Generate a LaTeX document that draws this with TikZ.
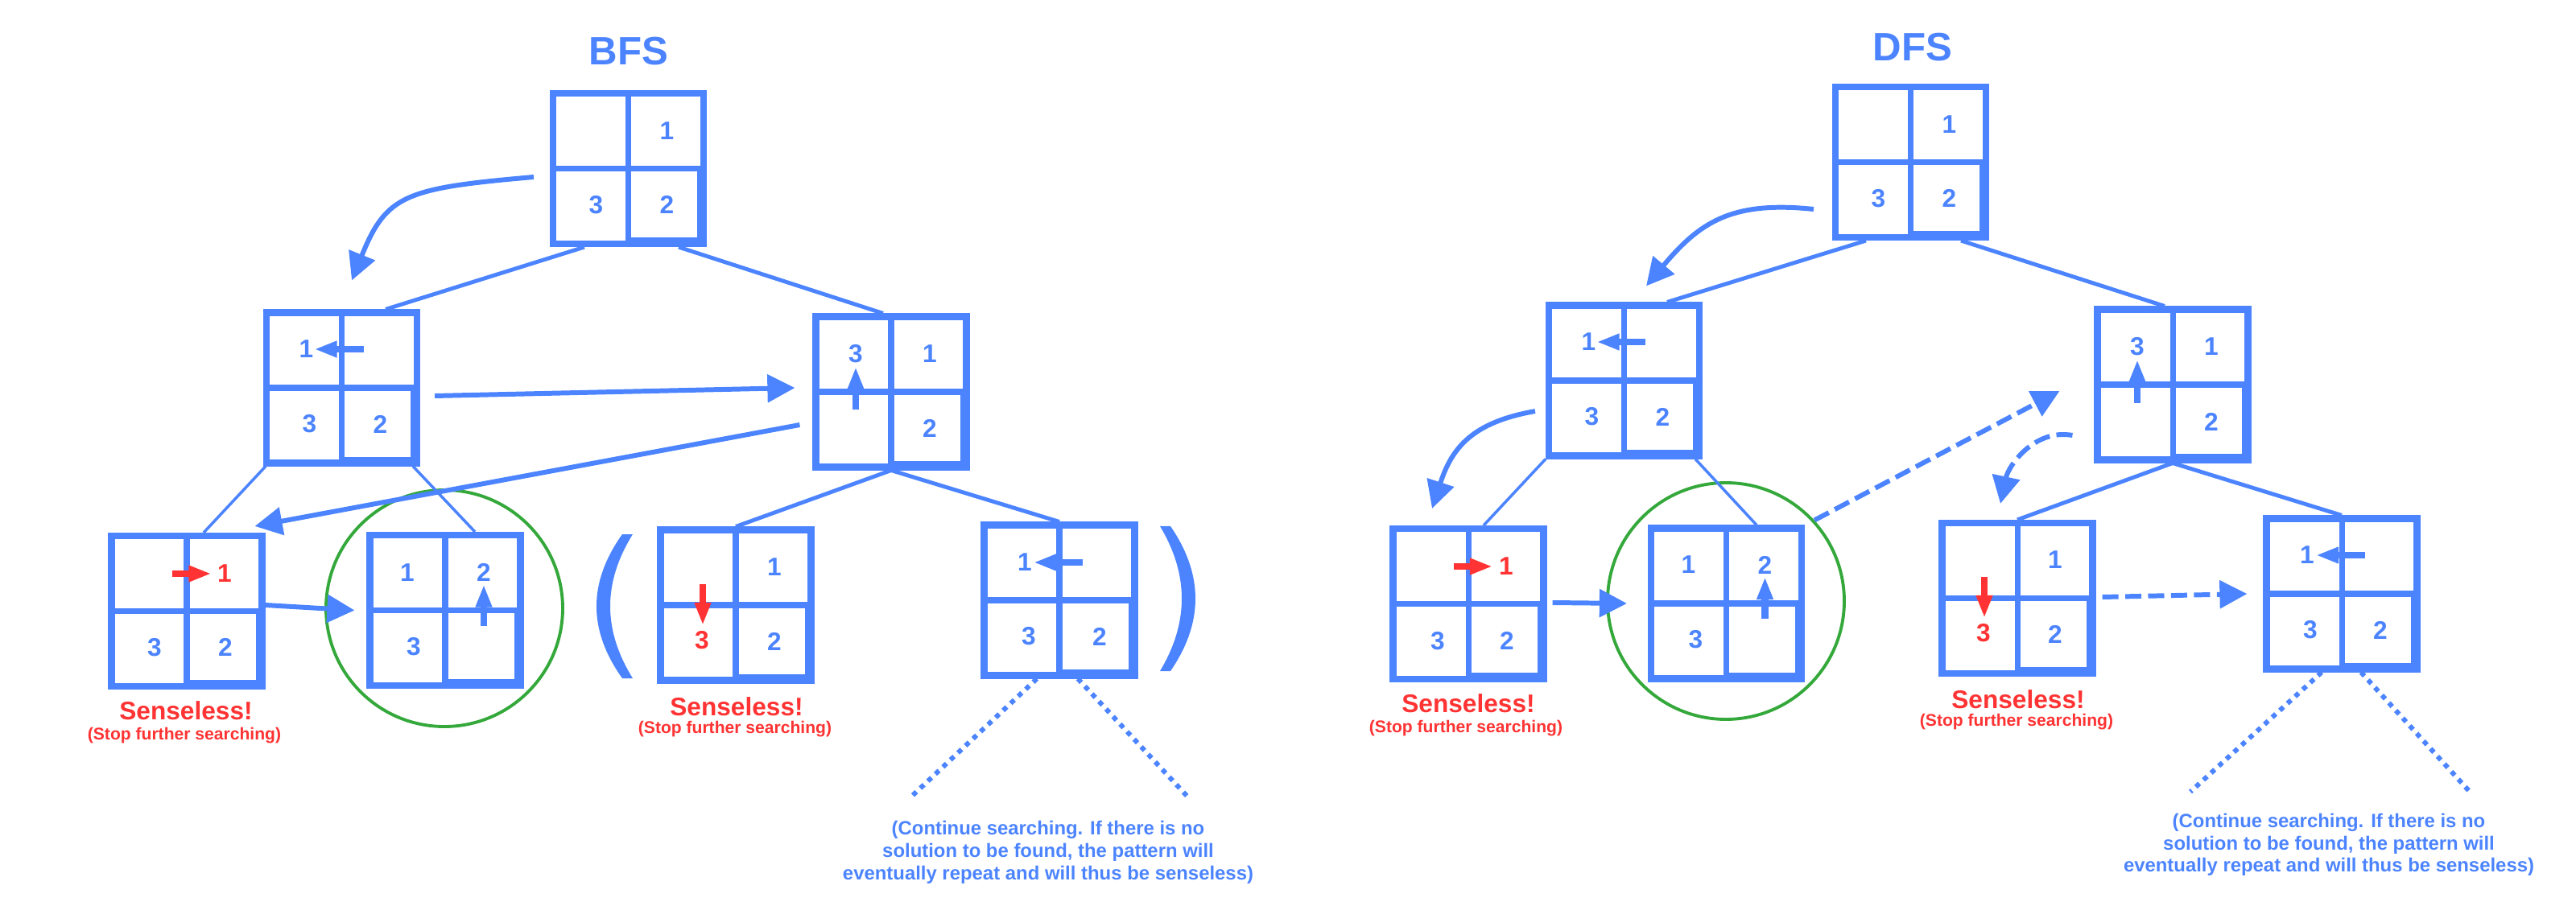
\documentclass[tikz,border=0pt]{standalone}
\usepackage{fontspec}
\setmainfont{Liberation Sans}
\usetikzlibrary{arrows.meta}
\definecolor{puzblue}{RGB}{76,132,255}
\definecolor{puzred}{RGB}{255,51,51}
\definecolor{goalgreen}{RGB}{52,168,58}
\tikzset{
  board/.style={draw=puzblue, fill=white, line width=2.3pt, minimum size=1.87cm, inner sep=0pt,
    path picture={
      \draw[puzblue, line width=2pt] (path picture bounding box.north) -- (path picture bounding box.south);
      \draw[puzblue, line width=2pt] (path picture bounding box.west) -- (path picture bounding box.east);
      \draw[puzblue, line width=4.4pt] (path picture bounding box.south) -- (path picture bounding box.south east) -- (path picture bounding box.east);
    }},
  tile/.style={text=puzblue, font=\fontsize{9}{10}\selectfont\bfseries, inner sep=0pt},
  redtile/.style={tile, text=puzred},
  slide/.style={draw=puzblue, line width=2.5pt, -{Triangle[length=8pt,width=5.4pt]}},
  redslide/.style={slide, draw=puzred, fill=puzred},
  link/.style={draw=puzblue, line width=1.4pt},
  thinlink/.style={draw=puzblue, line width=1pt},
  visit/.style={draw=puzblue, line width=1.7pt, -{Triangle[length=9.7pt,width=9.7pt]}},
  backtrack/.style={visit, dash pattern=on 5.7pt off 2.4pt},
  onward/.style={draw=puzblue, line width=1.7pt, dash pattern=on 1.75pt off 1.9pt},
  goalring/.style={draw=goalgreen, line width=1.1pt, circle, minimum size=2.94cm, inner sep=0pt},
  heading/.style={text=puzblue, font=\fontsize{14}{16}\selectfont\bfseries},
  verdict/.style={text=puzred, font=\fontsize{9}{10}\selectfont\bfseries, inner sep=0pt},
  aside/.style={text=puzred, font=\fontsize{6}{7}\selectfont\bfseries, inner sep=0pt},
  remark/.style={text=puzblue, font=\fontsize{6.8}{7.9}\selectfont\bfseries, align=center, inner sep=0pt}
}
\begin{document}
\begin{tikzpicture}
                    \useasboundingbox (0,0) rectangle (32.000000,11.250000);
                    {\bfseries

                    % Marking titles
                    \node[heading] (bfs) at (7.810000,10.610000) {BFS};%
                    \node[heading] (dfs) at (23.760000,10.660000) {DFS};%

                    % Marking goal rings
                    \node[goalring] (B2ring) at (5.520000,3.690000) {};%
                    \node[goalring] (D2ring) at (21.440000,3.780000) {};%

                    % ---------------- BFS ----------------

                    % Drawing board R
                    \node[board] (R) at (7.805000,9.155000) {};%
                    \node[tile] (R1) at ([xshift=0.48cm,yshift=0.47cm]R.center) {1};%
                    \node[tile] (R3) at ([xshift=-0.40cm,yshift=-0.45cm]R.center) {3};%
                    \node[tile] (R2) at ([xshift=0.48cm,yshift=-0.45cm]R.center) {2};%

                    % Drawing board L
                    \node[board] (L) at (4.245000,6.430000) {};%
                    \node[tile] (L1) at ([xshift=-0.44cm,yshift=0.48cm]L.center) {1};%
                    \node[tile] (L3) at ([xshift=-0.40cm,yshift=-0.45cm]L.center) {3};%
                    \node[tile] (L2) at ([xshift=0.48cm,yshift=-0.45cm]L.center) {2};%
                    \draw[slide] ([xshift=0.27cm,yshift=0.48cm]L.center) -- ([xshift=-0.34cm,yshift=0.48cm]L.center);%

                    % Drawing board Rt
                    \node[board] (Rt) at (11.070000,6.380000) {};%
                    \node[tile] (Rt3) at ([xshift=-0.44cm,yshift=0.47cm]Rt.center) {3};%
                    \node[tile] (Rt1) at ([xshift=0.48cm,yshift=0.47cm]Rt.center) {1};%
                    \node[tile] (Rt2) at ([xshift=0.48cm,yshift=-0.45cm]Rt.center) {2};%
                    \draw[slide] ([xshift=-0.44cm,yshift=-0.22cm]Rt.center) -- ([xshift=-0.44cm,yshift=0.31cm]Rt.center);%

                    % Drawing board B1
                    \node[board] (B1) at (2.320000,3.655000) {};%
                    \node[redtile] (B11) at ([xshift=0.47cm,yshift=0.465cm]B1.center) {1};%
                    \node[tile] (B13) at ([xshift=-0.40cm,yshift=-0.45cm]B1.center) {3};%
                    \node[tile] (B12) at ([xshift=0.48cm,yshift=-0.45cm]B1.center) {2};%
                    \draw[redslide] ([xshift=-0.185cm,yshift=0.465cm]B1.center) -- ([xshift=0.305cm,yshift=0.465cm]B1.center);%

                    % Drawing board B2
                    \node[board] (B2) at (5.530000,3.665000) {};%
                    \node[tile] (B21) at ([xshift=-0.47cm,yshift=0.47cm]B2.center) {1};%
                    \node[tile] (B22) at ([xshift=0.48cm,yshift=0.47cm]B2.center) {2};%
                    \node[tile] (B23) at ([xshift=-0.39cm,yshift=-0.45cm]B2.center) {3};%
                    \draw[slide] ([xshift=0.48cm,yshift=-0.19cm]B2.center) -- ([xshift=0.48cm,yshift=0.32cm]B2.center);%

                    % Drawing board B3
                    \node[board] (B3) at (9.140000,3.730000) {};%
                    \node[tile] (B31) at ([xshift=0.48cm,yshift=0.47cm]B3.center) {1};%
                    \node[redtile] (B33) at ([xshift=-0.42cm,yshift=-0.44cm]B3.center) {3};%
                    \node[tile] (B32) at ([xshift=0.48cm,yshift=-0.45cm]B3.center) {2};%
                    \draw[redslide] ([xshift=-0.41cm,yshift=0.26cm]B3.center) -- ([xshift=-0.41cm,yshift=-0.25cm]B3.center);%

                    % Drawing board B4
                    \node[board] (B4) at (13.160000,3.790000) {};%
                    \node[tile] (B41) at ([xshift=-0.43cm,yshift=0.47cm]B4.center) {1};%
                    \node[tile] (B43) at ([xshift=-0.38cm,yshift=-0.45cm]B4.center) {3};%
                    \node[tile] (B42) at ([xshift=0.50cm,yshift=-0.45cm]B4.center) {2};%
                    \draw[slide] ([xshift=0.29cm,yshift=0.47cm]B4.center) -- ([xshift=-0.32cm,yshift=0.47cm]B4.center);%

                    % Drawing segments of the BFS tree
                    \draw[link] ([xshift=-0.545cm]R.south) -- ([xshift=0.545cm]L.north);%
                    \draw[link] ([xshift=0.625cm]R.south) -- ([xshift=-0.1cm]Rt.north);%
                    \draw[thinlink] ([xshift=0.03cm]L.south west) -- ([xshift=0.21cm]B1.north);%
                    \draw[thinlink] ([xshift=-0.09cm]L.south east) -- ([xshift=0.37cm]B2.north);%
                    \draw[link] (Rt.south) -- (B3.north);%
                    \draw[link] (Rt.south) -- (B4.north);%

                    % Drawing dotted continuation of B4
                    \coordinate (bfsleft) at (11.300000,1.330000);%
                    \coordinate (bfsright) at (14.770000,1.330000);%
                    \draw[onward] ([xshift=-0.28cm]B4.south) -- (bfsleft);%
                    \draw[onward] ([xshift=0.23cm]B4.south) -- (bfsright);%

                    % Drawing brackets round B3 and B4
                    \fill[puzblue] (7.730000,4.610000) .. controls (7.303000,4.010000) and (7.303000,3.420000) .. (7.730000,2.820000) -- (7.860000,2.820000) .. controls (7.487000,3.420000) and (7.487000,4.010000) .. (7.860000,4.610000) -- cycle;%
                    \fill[puzblue] (14.540000,4.710000) .. controls (14.953000,4.110000) and (14.953000,3.510000) .. (14.540000,2.910000) -- (14.410000,2.910000) .. controls (14.770000,3.510000) and (14.770000,4.110000) .. (14.410000,4.710000) -- cycle;%

                    % Drawing BFS search order
                    \draw[visit] ([xshift=-0.2cm,yshift=-0.105cm]R.west) to[out=185,in=68,out distance=1.6cm,in distance=1.15cm] ([xshift=0.125cm,yshift=0.36cm]L.north);%
                    \draw[visit] ([xshift=0.18cm,yshift=-0.1cm]L.east) -- ([xshift=-0.22cm,yshift=0.05cm]Rt.west);%
                    \draw[visit] ([xshift=-0.16cm,yshift=-0.41cm]Rt.west) -- ([xshift=-0.13cm,yshift=0.08cm]B1.north east);%
                    \draw[visit] ([yshift=0.075cm]B1.east) -- ([xshift=-0.15cm]B2.west);%

                    % Marking BFS texts
                    \node[verdict] (B1sense) at (2.310000,2.420000) {Senseless!};%
                    \node[aside] (B1stop) at (2.290000,2.110000) {(Stop further searching)};%
                    \node[verdict] (B3sense) at (9.150000,2.470000) {Senseless!};%
                    \node[aside] (B3stop) at (9.130000,2.190000) {(Stop further searching)};%
                    \node[remark] (bfsmore) at (13.020000,0.655000) {(Continue searching. If there is no\\solution to be found, the pattern will\\eventually repeat and will thus be senseless)};%

                    % ---------------- DFS ----------------

                    % Drawing board DR
                    \node[board] (DR) at (23.735000,9.235000) {};%
                    \node[tile] (DR1) at ([xshift=0.48cm,yshift=0.47cm]DR.center) {1};%
                    \node[tile] (DR3) at ([xshift=-0.40cm,yshift=-0.45cm]DR.center) {3};%
                    \node[tile] (DR2) at ([xshift=0.48cm,yshift=-0.45cm]DR.center) {2};%

                    % Drawing board DL
                    \node[board] (DL) at (20.175000,6.520000) {};%
                    \node[tile] (DL1) at ([xshift=-0.44cm,yshift=0.48cm]DL.center) {1};%
                    \node[tile] (DL3) at ([xshift=-0.40cm,yshift=-0.45cm]DL.center) {3};%
                    \node[tile] (DL2) at ([xshift=0.48cm,yshift=-0.45cm]DL.center) {2};%
                    \draw[slide] ([xshift=0.26cm,yshift=0.48cm]DL.center) -- ([xshift=-0.34cm,yshift=0.48cm]DL.center);%

                    % Drawing board DRt
                    \node[board] (DRt) at (26.990000,6.470000) {};%
                    \node[tile] (DRt3) at ([xshift=-0.44cm,yshift=0.47cm]DRt.center) {3};%
                    \node[tile] (DRt1) at ([xshift=0.48cm,yshift=0.47cm]DRt.center) {1};%
                    \node[tile] (DRt2) at ([xshift=0.48cm,yshift=-0.46cm]DRt.center) {2};%
                    \draw[slide] ([xshift=-0.44cm,yshift=-0.23cm]DRt.center) -- ([xshift=-0.44cm,yshift=0.31cm]DRt.center);%

                    % Drawing board D1
                    \node[board] (D1) at (18.240000,3.745000) {};%
                    \node[redtile] (D11) at ([xshift=0.47cm,yshift=0.465cm]D1.center) {1};%
                    \node[tile] (D13) at ([xshift=-0.38cm,yshift=-0.46cm]D1.center) {3};%
                    \node[tile] (D12) at ([xshift=0.48cm,yshift=-0.46cm]D1.center) {2};%
                    \draw[redslide] ([xshift=-0.18cm,yshift=0.465cm]D1.center) -- ([xshift=0.30cm,yshift=0.465cm]D1.center);%

                    % Drawing board D2
                    \node[board] (D2) at (21.445000,3.750000) {};%
                    \node[tile] (D21) at ([xshift=-0.47cm,yshift=0.48cm]D2.center) {1};%
                    \node[tile] (D22) at ([xshift=0.48cm,yshift=0.48cm]D2.center) {2};%
                    \node[tile] (D23) at ([xshift=-0.38cm,yshift=-0.45cm]D2.center) {3};%
                    \draw[slide] ([xshift=0.48cm,yshift=-0.19cm]D2.center) -- ([xshift=0.48cm,yshift=0.33cm]D2.center);%

                    % Drawing board D3
                    \node[board] (D3) at (25.060000,3.815000) {};%
                    \node[tile] (D31) at ([xshift=0.47cm,yshift=0.48cm]D3.center) {1};%
                    \node[redtile] (D33) at ([xshift=-0.42cm,yshift=-0.43cm]D3.center) {3};%
                    \node[tile] (D32) at ([xshift=0.47cm,yshift=-0.45cm]D3.center) {2};%
                    \draw[redslide] ([xshift=-0.41cm,yshift=0.265cm]D3.center) -- ([xshift=-0.41cm,yshift=-0.245cm]D3.center);%

                    % Drawing board D4
                    \node[board] (D4) at (29.090000,3.870000) {};%
                    \node[tile] (D41) at ([xshift=-0.43cm,yshift=0.48cm]D4.center) {1};%
                    \node[tile] (D43) at ([xshift=-0.39cm,yshift=-0.45cm]D4.center) {3};%
                    \node[tile] (D42) at ([xshift=0.48cm,yshift=-0.45cm]D4.center) {2};%
                    \draw[slide] ([xshift=0.29cm,yshift=0.48cm]D4.center) -- ([xshift=-0.32cm,yshift=0.48cm]D4.center);%

                    % Drawing segments of the DFS tree
                    \draw[link] ([xshift=-0.555cm]DR.south) -- ([xshift=0.535cm]DL.north);%
                    \draw[link] ([xshift=0.625cm]DR.south) -- ([xshift=-0.1cm]DRt.north);%
                    \draw[thinlink] (DL.south west) -- ([xshift=0.19cm]D1.north);%
                    \draw[thinlink] ([xshift=-0.09cm]DL.south east) -- ([xshift=0.375cm]D2.north);%
                    \draw[link] (DRt.south) -- (D3.north);%
                    \draw[link] (DRt.south) -- (D4.north);%

                    % Drawing dotted continuation of D4
                    \coordinate (dfsleft) at (27.210000,1.410000);%
                    \coordinate (dfsright) at (30.680000,1.410000);%
                    \draw[onward] ([xshift=-0.25cm]D4.south) -- (dfsleft);%
                    \draw[onward] ([xshift=0.24cm]D4.south) -- (dfsright);%

                    % Drawing DFS search order
                    \draw[visit] ([xshift=-0.23cm,yshift=-0.585cm]DR.west) to[out=174,in=50,looseness=1.15] ([xshift=0.275cm,yshift=0.2cm]DL.north);%
                    \draw[visit] ([xshift=-0.13cm,yshift=-0.38cm]DL.west) to[out=190,in=72,looseness=1.15] ([xshift=-0.45cm,yshift=0.21cm]D1.north);%
                    \draw[visit] ([xshift=0.07cm,yshift=0.015cm]D1.east) -- ([xshift=-0.26cm]D2.west);%
                    \draw[backtrack] ([xshift=0.12cm,yshift=0.06cm]D2.north east) -- ([xshift=-0.43cm,yshift=-0.08cm]DRt.west);%
                    \draw[backtrack] ([xshift=-0.27cm,yshift=-0.63cm]DRt.west) to[out=170,in=78] ([xshift=-0.21cm,yshift=0.2cm]D3.north);%
                    \draw[backtrack] ([xshift=0.08cm,yshift=0.015cm]D3.east) -- ([xshift=-0.2cm]D4.west);%

                    % Marking DFS texts
                    \node[verdict] (D1sense) at (18.240000,2.510000) {Senseless!};%
                    \node[aside] (D1stop) at (18.210000,2.200000) {(Stop further searching)};%
                    \node[verdict] (D3sense) at (25.070000,2.560000) {Senseless!};%
                    \node[aside] (D3stop) at (25.050000,2.280000) {(Stop further searching)};%
                    \node[remark] (dfsmore) at (28.930000,0.750000) {(Continue searching. If there is no\\solution to be found, the pattern will\\eventually repeat and will thus be senseless)};%
                    }
\end{tikzpicture}
\end{document}
